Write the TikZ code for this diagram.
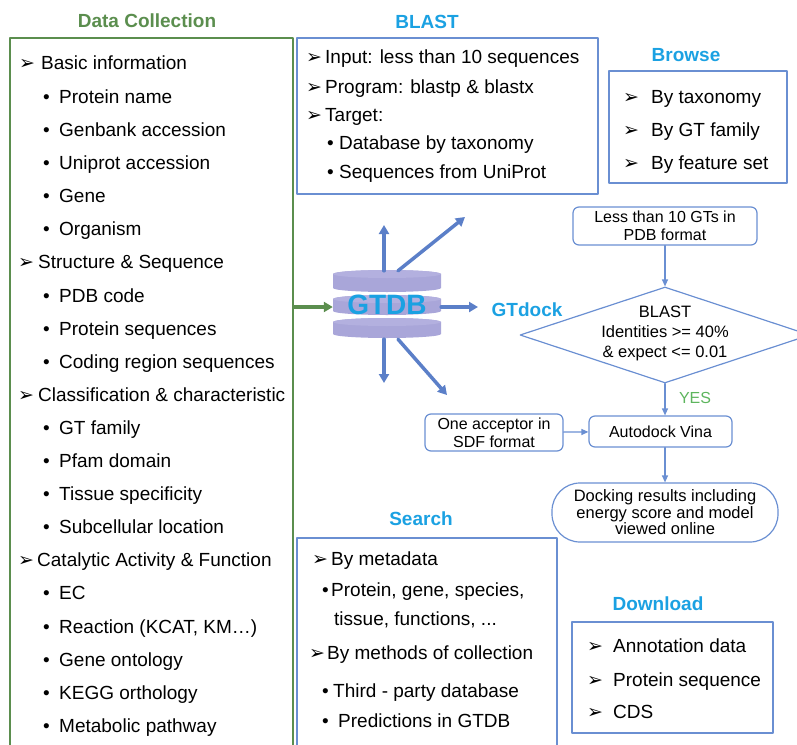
\documentclass[tikz,border=0pt]{standalone}
\usepackage{fontspec}
\setmainfont{Liberation Sans}
\newfontfamily\symfont{DejaVu Sans}
\usetikzlibrary{arrows.meta,shapes.geometric}
\definecolor{dcgreen}{HTML}{5B8E4E}
\definecolor{titleblue}{HTML}{1BA1E2}
\definecolor{boxblue}{HTML}{6A8FD2}
\definecolor{arrowblue}{HTML}{5B7FC8}
\definecolor{gtdbdisk}{HTML}{A9A6D9}
\definecolor{gtdbtop}{HTML}{B3B0DF}
\definecolor{yesgreen}{HTML}{5DB55D}
\newcommand\arr[1][20pt]{\makebox[#1][l]{\symfont\fontsize{19}{19}\selectfont ➢}}
\newcommand\bul[1][14pt]{\makebox[#1][l]{\textbullet}}
\tikzset{
  item/.style={anchor=west, inner sep=0pt, text height=13.5pt, text depth=0pt, font=\fontsize{19}{22}\selectfont},
  title/.style={font=\fontsize{19}{22}\selectfont\bfseries, text=titleblue, inner sep=0pt},
  listbox/.style={draw=boxblue, line width=1.5pt, inner sep=0pt},
  flow/.style={draw=boxblue, line width=1.2pt, rounded corners=6pt, align=center, font=\fontsize{16}{18}\selectfont, inner sep=0pt},
  flowarrow/.style={draw=boxblue, line width=1.2pt, -{Triangle[length=7pt,width=6pt]}},
  bigarrow/.style={draw=arrowblue, line width=3.5pt, -{Triangle[length=9pt,width=10pt]}},
}
\begin{document}
\begin{tikzpicture}[x=1pt, y=1pt, line join=round, line cap=round]
\useasboundingbox (0,0) rectangle (797,-744);
\clip (0,0) rectangle (797,-744);
% data collection
\node[title, text=dcgreen] (dctitle) at (147,-21) {Data Collection};
\node[draw=dcgreen, line width=2pt, minimum width=283pt, minimum height=722pt, inner sep=0pt] (dc) at (151.5,-399) {};
\foreach \x/\y/\t [count=\n] in {19/63/\arr[22pt]Basic information, 43/97/\bul[16pt]Protein name,
  43/130/\bul[16pt]Genbank accession, 43/163/\bul[16pt]Uniprot accession, 43/196/\bul[16pt]Gene,
  43/229/\bul[16pt]Organism, 18/262/\arr[20pt]Structure \& Sequence, 43/296/\bul[16pt]PDB code,
  43/329/\bul[16pt]Protein sequences, 43/362/\bul[16pt]Coding region sequences,
  18/395/\arr[20pt]Classification \& characteristic, 43/428/\bul[16pt]GT family,
  43/461/\bul[16pt]Pfam domain, 43/494/\bul[16pt]Tissue specificity, 43/527/\bul[16pt]Subcellular location,
  18/560/\arr[19pt]Catalytic Activity \& Function, 43/593/\bul[16pt]EC,
  {43/627/\bul[16pt]Reaction (KCAT, KM…)}, 43/660/\bul[16pt]Gene ontology,
  43/693/\bul[16pt]KEGG orthology, 43/726/\bul[16pt]Metabolic pathway}
  \node[item] (dc\n) at (\x,-\y) {\t};
% blast and browse
\node[title] (blasttitle) at (427,-22) {BLAST};
\node[listbox, minimum width=301pt, minimum height=156pt] (blastbox) at (447.5,-116) {};
\foreach \x/\y/\t [count=\n] in {306/57/\arr[19pt]Input: less than 10 sequences,
  306/87/\arr[19pt]Program: blastp \& blastx, 306/115/\arr[19pt]Target:,
  327/143/\bul[12pt]Database by taxonomy, 327/172/\bul[12pt]Sequences from UniProt}
  \node[item] (bl\n) at (\x,-\y) {\t};
\node[title] (browsetitle) at (686,-55) {Browse};
\node[listbox, minimum width=178pt, minimum height=112pt] (browsebox) at (698,-127) {};
\foreach \y/\t [count=\n] in {97/By taxonomy, 130/By GT family, 163/By feature set}
  \node[item] (br\n) at (623,-\y) {\arr[28pt]\t};
% GTDB
\foreach \t/\b in {270/292, 295/315, 318/338} {
  \fill[gtdbdisk] (333,-\t-4) -- (333,-\b+4) arc[start angle=180, end angle=360, x radius=54, y radius=4]
    -- (441,-\t-4) arc[start angle=0, end angle=180, x radius=54, y radius=4] -- cycle;
  \fill[gtdbtop] (387,-\t-4) ellipse[x radius=54, y radius=4];
}
\node[font=\fontsize{28}{28}\selectfont\bfseries, text=titleblue, minimum width=108pt, minimum height=68pt, inner sep=0pt] (gtdb) at (387,-305) {GTDB};
\coordinate (toblast) at (384,-225);
\coordinate (tobrowse) at (465,-217);
\coordinate (todock) at (478,-307);
\coordinate (tosearch) at (384,-383);
\coordinate (todown) at (447,-395);
\draw[bigarrow] (gtdb.north -| toblast) -- (toblast);
\draw[bigarrow] ([xshift=11pt]gtdb.north) -- (tobrowse);
\draw[bigarrow] (gtdb.east |- todock) -- (todock);
\draw[bigarrow] (gtdb.south -| tosearch) -- (tosearch);
\draw[bigarrow] ([xshift=11pt]gtdb.south) -- (todown);
\draw[bigarrow, draw=dcgreen] (dc.east |- todock) -- (gtdb.west |- todock);
% gtdock
\node[title] (docktitle) at (527,-310) {GTdock};
\node[flow, minimum width=184pt, minimum height=38pt] (gts) at (665,-226) {Less than 10 GTs in\\PDB format};
\node[diamond, draw=boxblue, line width=1.2pt, minimum width=290pt, minimum height=96pt, inner sep=0pt] (blast) at (665,-335) {};
\node[align=center, font=\fontsize{16.5}{20}\selectfont, inner sep=0pt] (blasttext) at (665,-333) {BLAST\\Identities >= 40\%\\\& expect <= 0.01};
\node[flow, minimum width=143pt, minimum height=31pt] (vina) at (660.5,-431.5) {Autodock Vina};
\node[flow, minimum width=138pt, minimum height=37pt] (sdf) at (494,-432.5) {One acceptor in\\SDF format};
\node[flow, minimum width=226pt, minimum height=59pt, rounded corners=28pt, font=\fontsize{16.5}{16.5}\selectfont] (dock) at (665,-512.5) {Docking results including\\energy score and model\\viewed online};
\node[text=yesgreen, font=\fontsize{16}{16}\selectfont, inner sep=0pt] (yes) at (695,-398) {YES};
\draw[flowarrow] (gts) -- (blast.north);
\draw[flowarrow] (blast.south) -- (blast.south |- vina.north);
\draw[flowarrow] (sdf) -- (vina);
\draw[flowarrow] (vina.south -| dock) -- (dock.north);
% search and download
\node[title] (searchtitle) at (421,-519) {Search};
\node[listbox, minimum width=260pt, minimum height=222pt] (searchbox) at (427,-649) {};
\foreach \x/\y/\t [count=\n] in {312/559/\arr[19pt]By metadata, {322/590/\bul[9pt]Protein, gene, species,},
  {334/619/tissue, functions, .{}.{}.}, 309/653/\arr[18pt]By methods of collection,
  322/691/\bul[11pt]Third - party database, 322/721/\bul[16pt]Predictions in GTDB}
  \node[item] (se\n) at (\x,-\y) {\t};
\node[title] (downtitle) at (658,-604) {Download};
\node[listbox, minimum width=201pt, minimum height=111pt] (downbox) at (672.5,-677.5) {};
\foreach \y/\t [count=\n] in {646/Annotation data, 680/Protein sequence, 712/CDS}
  \node[item] (do\n) at (587,-\y) {\arr[26pt]\t};
\end{tikzpicture}
\end{document}
